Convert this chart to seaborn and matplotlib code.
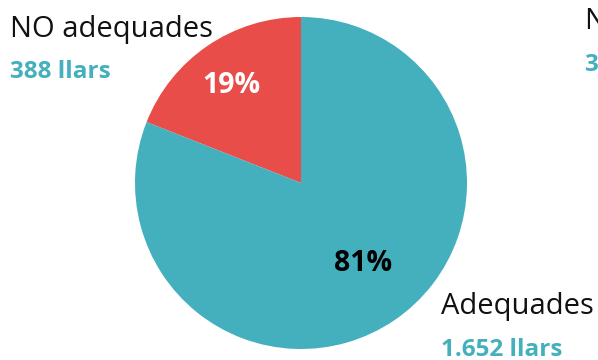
import matplotlib
matplotlib.use("Agg")
import matplotlib.pyplot as plt
import seaborn as sns

# Data
categories = ["NO adequades", "Adequades"]
households = [388, 1652]
colors = ["#E84D4A", "#44B0BE"]

sns.set_theme(style="white")
plt.rcParams["font.family"] = ["Open Sans", "DejaVu Sans"]

W, H = 598, 360
fig = plt.figure(figsize=(W / 100, H / 100), dpi=100)

# Pie axes: centre (301, 183) px, radius 166 px
cx, cy, r = 301, 183, 166
ax = fig.add_axes([(cx - r) / W, (H - cy - r) / H, 2 * r / W, 2 * r / H])

wedges, texts, autotexts = ax.pie(
    households,
    colors=colors,
    startangle=90,
    counterclock=True,
    autopct=lambda p: f"{p:.0f}%",
    wedgeprops=dict(linewidth=0),
)
ax.set_xlim(-1, 1)
ax.set_ylim(-1, 1)
ax.set_aspect("equal")
ax.axis("off")

# Percentage labels
pct_pos = [(231, 93), (363, 271)]
pct_col = ["white", "black"]
for t, (px, py), c in zip(autotexts, pct_pos, pct_col):
    t.set_position(((px - cx) / r, (cy - py) / r))
    t.set_ha("center")
    t.set_va("baseline")
    t.set_color(c)
    t.set_fontsize(20.5)
    t.set_fontweight("bold")


def fmt(n):
    return f"{n:,}".replace(",", ".") + " llars"


def label(x, y_name, y_val, name, value):
    fig.text(x / W, 1 - y_name / H, name, fontsize=21, color="#111111",
             ha="left", va="baseline")
    fig.text(x / W, 1 - y_val / H, fmt(value), fontsize=17.5, color="#44B0BE",
             fontweight="bold", ha="left", va="baseline")


label(10, 37, 78, categories[0], households[0])
label(585, 29, 71, categories[0], households[0])
label(441, 314, 356, categories[1], households[1])

fig.savefig("out.png", dpi=100)
